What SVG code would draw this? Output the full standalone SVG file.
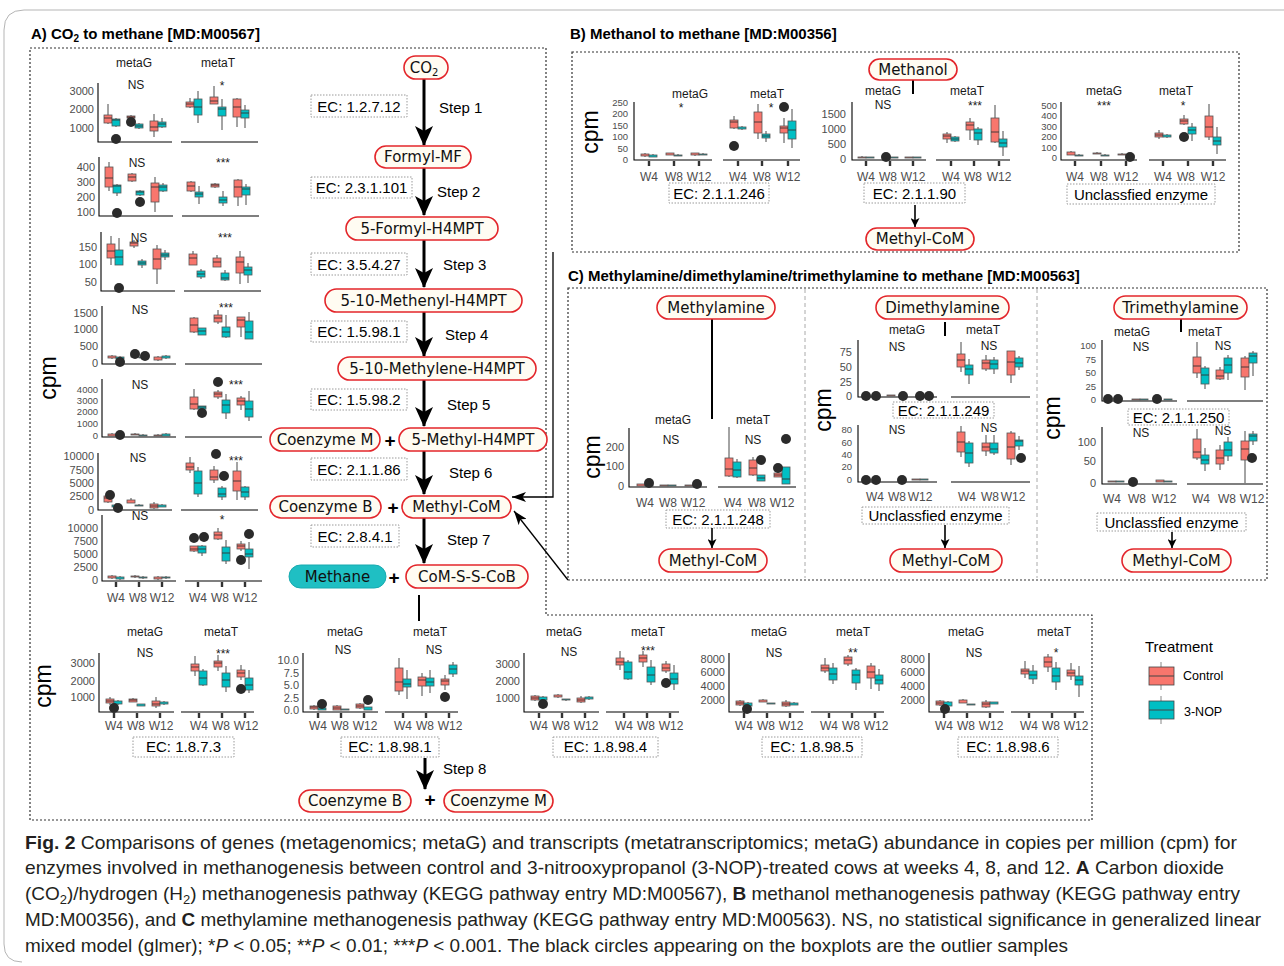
<svg xmlns="http://www.w3.org/2000/svg" width="1284" height="966" viewBox="0 0 1284 966">
<defs>
<style>
text{font-family:"Liberation Sans",Arial,sans-serif}
.ax{fill:none;stroke:#000;stroke-width:1.1}
.tk{fill:none;stroke:#333;stroke-width:2.4}
.w{fill:none;stroke:#333;stroke-width:0.9}
.r{fill:#F8766D;stroke:#555;stroke-width:0.8}
.t{fill:#00BFC4;stroke:#555;stroke-width:0.8}
.o{fill:#2b2b2b}
.yl{font-size:11px;fill:#4d4d4d;text-anchor:end}
.ys{font-size:9.5px;fill:#4d4d4d;text-anchor:end}
.xl{font-size:12px;fill:#4d4d4d;text-anchor:middle}
.hd{font-size:12px;fill:#1a1a1a;text-anchor:middle}
.ns{font-size:12px;fill:#1a1a1a;text-anchor:middle}
.cpm{font-size:23px;fill:#000;text-anchor:middle}
.nd{fill:#fffcf2;stroke:#e3262b;stroke-width:1.6}
.nt{font-family:"DejaVu Sans",Verdana,sans-serif;font-size:15px;fill:#111;text-anchor:middle}
.ec{fill:#fff;stroke:#9a9a9a;stroke-width:1;stroke-dasharray:1.5 1.5}
.et{font-size:15px;fill:#000;text-anchor:middle}
.sp{font-size:15px;fill:#000}
.ttl{font-size:15px;font-weight:bold;fill:#000}
.pl{font-size:19px;font-weight:bold;fill:#000;text-anchor:middle}
.frm{fill:none;stroke:#333;stroke-width:1.2;stroke-dasharray:2 2}
.div{fill:none;stroke:#aaa;stroke-width:1;stroke-dasharray:4 3}
.cap{font-size:19px;fill:#231f20}
.big{fill:none;stroke:#000;stroke-width:3}
.sm{fill:none;stroke:#000;stroke-width:1.6}
.ln{fill:none;stroke:#000;stroke-width:2}
.cn{fill:none;stroke:#000;stroke-width:1.3}
</style>
<marker id="mb" viewBox="0 0 20 18" refX="19" refY="9" markerWidth="20" markerHeight="18" markerUnits="userSpaceOnUse" orient="auto"><path d="M0,0 L20,9 L0,18 L5,9 Z" fill="#000"/></marker>
<marker id="ms" viewBox="0 0 10 10" refX="10" refY="5" markerWidth="10" markerHeight="9" markerUnits="userSpaceOnUse" orient="auto"><path d="M0,0 L10,5 L0,10 L2.5,5 Z" fill="#000"/></marker>
<marker id="mm" viewBox="0 0 14 10" refX="14" refY="5" markerWidth="14" markerHeight="10" markerUnits="userSpaceOnUse" orient="auto"><path d="M0,0 L14,5 L0,10 L3.5,5 Z" fill="#000"/></marker>
</defs>
<rect width="1284" height="966" fill="#fff"/>
<path d="M1284 10H24Q4 10 4 30V944Q4 962 22 962" fill="none" stroke="#b5b5b5" stroke-width="1"/>

<!-- panel frames -->
<g id="frames">
<text class="ttl" x="31" y="39">A) CO<tspan font-size="10" dy="3">2</tspan><tspan dy="-3"> to methane [MD:M00567]</tspan></text>
<path class="frm" d="M30 48H546V615H1092V820H30Z"/>
<text class="ttl" x="570" y="39">B) Methanol to methane [MD:M00356]</text>
<path class="frm" d="M572 52H1239V252H572Z"/>
<text class="ttl" x="568" y="281">C) Methylamine/dimethylamine/trimethylamine to methane [MD:M00563]</text>
<path class="frm" d="M568 288H1267V580H568Z"/>
<path class="div" d="M805 289V578M1037 289V578"/>
</g>

<!-- Panel A left plots -->
<g id="plotsA">
<text class="hd" x="134" y="67">metaG</text><text class="hd" x="218" y="67">metaT</text>
<text class="cpm" transform="translate(48,378) rotate(-90)" y="8">cpm</text>
<g id="a1" transform="translate(-4,0)">
<path class="ax" d="M102 83V142H176M185 142H262"/>
<path class="w" d="M112 104V124M120 118V127M135 115V119M143 123V129M158 114V137M166 118V128M194 98V108M202 91V123M218 86V104M226 99V130M241 98V127M249 105V128"/>
<rect class="r" x="108" y="115" width="8" height="8"/><rect class="t" x="116" y="119" width="8" height="7"/><rect class="r" x="131" y="116" width="8" height="2"/><rect class="t" x="139" y="124" width="8" height="4"/><rect class="r" x="154" y="121" width="8" height="10"/><rect class="t" x="162" y="122" width="8" height="5"/>
<rect class="r" x="190" y="102" width="8" height="5"/><rect class="t" x="198" y="99" width="8" height="16"/><rect class="r" x="214" y="97" width="8" height="7"/><rect class="t" x="222" y="107" width="8" height="9"/><rect class="r" x="237" y="99" width="8" height="18"/><rect class="t" x="245" y="110" width="8" height="8"/>
<path class="w" d="M108 118h8M116 120h8M131 117h8M139 126h8M154 127h8M162 124h8M190 104h8M198 107h8M214 101h8M222 109h8M237 107h8M245 113h8"/>
<circle class="o" cx="120" cy="139" r="5"/><circle class="o" cx="135" cy="122" r="5"/>
<text class="yl" x="98" y="95">3000</text><text class="yl" x="98" y="113">2000</text><text class="yl" x="98" y="132">1000</text>
<text class="ns" x="140" y="89">NS</text><text class="ns" x="226" y="90">*</text>
</g>
<g id="a2" transform="translate(-3,0)">
<path class="ax" d="M102 157V216H176M185 216H262"/>
<path class="w" d="M112 162V191M120 184V196M135 173V182M143 190V196M158 177V212M166 183V192M194 181V192M202 186V204M218 183V188M226 191V206M241 179V206M249 184V205"/>
<rect class="r" x="108" y="167" width="8" height="20"/><rect class="t" x="116" y="185" width="8" height="8"/><rect class="r" x="131" y="174" width="8" height="7"/><rect class="t" x="139" y="191" width="8" height="4"/><rect class="r" x="154" y="183" width="8" height="19"/><rect class="t" x="162" y="185" width="8" height="6"/>
<rect class="r" x="190" y="182" width="8" height="9"/><rect class="t" x="198" y="192" width="8" height="5"/><rect class="r" x="214" y="184" width="8" height="3"/><rect class="t" x="222" y="197" width="8" height="6"/><rect class="r" x="237" y="180" width="8" height="17"/><rect class="t" x="245" y="187" width="8" height="8"/>
<path class="w" d="M108 178h8M116 186h8M131 177h8M139 192h8M154 187h8M162 187h8M190 186h8M198 194h8M214 185h8M222 200h8M237 187h8M245 189h8"/>
<circle class="o" cx="120" cy="213" r="5"/><circle class="o" cx="143" cy="202" r="5"/>
<text class="yl" x="98" y="171">400</text><text class="yl" x="98" y="186">300</text><text class="yl" x="98" y="201">200</text><text class="yl" x="98" y="216">100</text>
<text class="ns" x="140" y="167">NS</text><text class="ns" x="226" y="167">***</text>
</g>
<g id="a3" transform="translate(-1,0)">
<path class="ax" d="M102 232V291H176M185 291H262"/>
<path class="w" d="M112 236V265M120 238V265M135 240V248M143 259V268M158 245V284M166 250V260M194 251V265M202 269V279M218 255V267M226 270V281M241 251V284M249 263V283"/>
<rect class="r" x="108" y="244" width="8" height="14"/><rect class="t" x="116" y="250" width="8" height="15"/><rect class="r" x="131" y="242" width="8" height="4"/><rect class="t" x="139" y="261" width="8" height="4"/><rect class="r" x="154" y="249" width="8" height="20"/><rect class="t" x="162" y="253" width="8" height="4"/>
<rect class="r" x="190" y="254" width="8" height="11"/><rect class="t" x="198" y="271" width="8" height="6"/><rect class="r" x="214" y="258" width="8" height="9"/><rect class="t" x="222" y="273" width="8" height="7"/><rect class="r" x="237" y="257" width="8" height="16"/><rect class="t" x="245" y="267" width="8" height="8"/>
<path class="w" d="M108 251h8M116 257h8M131 243h8M139 263h8M154 259h8M162 255h8M190 258h8M198 274h8M214 262h8M222 278h8M237 262h8M245 270h8"/>
<circle class="o" cx="120" cy="288" r="5"/>
<text class="yl" x="98" y="251">150</text><text class="yl" x="98" y="268">100</text><text class="yl" x="98" y="286">50</text>
<text class="ns" x="140" y="242">NS</text><text class="ns" x="226" y="242">***</text>
</g>
<g id="a4">
<path class="ax" d="M102 306V364H176M185 364H262"/>
<path class="w" d="M112 355V359M120 356V360M135 355V357M143 356V358M158 356V361M166 355V359M194 317V333M202 328V335M218 310V324M226 315V338M241 317V337M249 312V339"/>
<rect class="r" x="108" y="356" width="8" height="2"/><rect class="t" x="116" y="357" width="8" height="2"/><rect class="r" x="131" y="355" width="8" height="2"/><rect class="t" x="139" y="357" width="8" height="1"/><rect class="r" x="154" y="357" width="8" height="3"/><rect class="t" x="162" y="356" width="8" height="2"/>
<rect class="r" x="190" y="318" width="8" height="14"/><rect class="t" x="198" y="328" width="8" height="7"/><rect class="r" x="214" y="315" width="8" height="7"/><rect class="t" x="222" y="327" width="8" height="10"/><rect class="r" x="237" y="317" width="8" height="10"/><rect class="t" x="245" y="321" width="8" height="18"/>
<path class="w" d="M190 325h8M198 331h8M214 318h8M222 332h8M237 320h8M245 332h8"/>
<circle class="o" cx="120" cy="362" r="5"/><circle class="o" cx="135" cy="354" r="5"/><circle class="o" cx="145" cy="356" r="5"/>
<text class="yl" x="98" y="317">1500</text><text class="yl" x="98" y="333">1000</text><text class="yl" x="98" y="350">500</text><text class="yl" x="98" y="367">0</text>
<text class="ns" x="140" y="314">NS</text><text class="ns" x="226" y="312">***</text>
</g>
<g id="a5">
<path class="ax" d="M102 379V437H176M185 437H262"/>
<path class="w" d="M112 433V436M120 434V436M135 433V435M143 434V436M158 434V436M166 433V436M194 389V410M202 406V410M218 390V399M226 394V419M241 396V410M249 391V421"/>
<rect class="r" x="108" y="434" width="8" height="2"/><rect class="t" x="116" y="435" width="8" height="1"/><rect class="r" x="131" y="434" width="8" height="1"/><rect class="t" x="139" y="435" width="8" height="1"/><rect class="r" x="154" y="435" width="8" height="1"/><rect class="t" x="162" y="434" width="8" height="2"/>
<rect class="r" x="190" y="397" width="8" height="12"/><rect class="t" x="198" y="406" width="8" height="3"/><rect class="r" x="214" y="392" width="8" height="5"/><rect class="t" x="222" y="400" width="8" height="13"/><rect class="r" x="237" y="398" width="8" height="7"/><rect class="t" x="245" y="401" width="8" height="16"/>
<path class="w" d="M190 404h8M198 407h8M214 394h8M222 405h8M237 401h8M245 409h8"/>
<circle class="o" cx="120" cy="435" r="5"/><circle class="o" cx="202" cy="413" r="5"/><circle class="o" cx="218" cy="382" r="5"/>
<text class="ys" x="98" y="393">4000</text><text class="ys" x="98" y="404">3000</text><text class="ys" x="98" y="415">2000</text><text class="ys" x="98" y="427">1000</text><text class="ys" x="98" y="439">0</text>
<text class="ns" x="140" y="389">NS</text><text class="ns" x="236" y="389">***</text>
</g>
<g id="a6" transform="translate(-4,0)">
<path class="ax" d="M102 453V510H176M185 510H262"/>
<path class="w" d="M112 494V503M120 503V508M135 498V503M143 504V506M158 502V509M166 504V507M194 457V473M202 467V497M218 466V483M226 486V500M241 462V500M249 486V500"/>
<rect class="r" x="108" y="496" width="8" height="6"/><rect class="t" x="116" y="505" width="8" height="2"/><rect class="r" x="131" y="500" width="8" height="3"/><rect class="t" x="139" y="505" width="8" height="1"/><rect class="r" x="154" y="504" width="8" height="4"/><rect class="t" x="162" y="505" width="8" height="2"/>
<rect class="r" x="190" y="463" width="8" height="7"/><rect class="t" x="198" y="471" width="8" height="23"/><rect class="r" x="214" y="470" width="8" height="10"/><rect class="t" x="222" y="488" width="8" height="9"/><rect class="r" x="237" y="471" width="8" height="20"/><rect class="t" x="245" y="487" width="8" height="10"/>
<path class="w" d="M108 498h8M154 506h8M190 467h8M198 483h8M214 477h8M222 494h8M237 481h8M245 492h8"/>
<circle class="o" cx="114" cy="495" r="5"/><circle class="o" cx="122" cy="508" r="5"/><circle class="o" cx="220" cy="454" r="5"/><circle class="o" cx="228" cy="476" r="5"/>
<text class="yl" x="98" y="460">10000</text><text class="yl" x="98" y="474">7500</text><text class="yl" x="98" y="487">5000</text><text class="yl" x="98" y="500">2500</text><text class="yl" x="98" y="514">0</text>
<text class="ns" x="142" y="462">NS</text><text class="ns" x="240" y="465">***</text>
</g>
<g id="a7">
<path class="ax" d="M102 515V581H176M185 581H262"/>
<path class="tk" d="M116 582V587M139 582V587M162 582V587M198 582V587M222 582V587M245 582V587"/>
<path class="w" d="M112 575V579M120 576V580M135 575V578M143 576V579M158 576V580M166 576V579M194 546V552M202 545V556M218 528V540M226 540V564M241 541V551M249 542V569"/>
<rect class="r" x="108" y="576" width="8" height="2"/><rect class="t" x="116" y="577" width="8" height="2"/><rect class="r" x="131" y="576" width="8" height="1"/><rect class="t" x="139" y="577" width="8" height="1"/><rect class="r" x="154" y="577" width="8" height="2"/><rect class="t" x="162" y="577" width="8" height="1"/>
<rect class="r" x="190" y="546" width="8" height="5"/><rect class="t" x="198" y="546" width="8" height="7"/><rect class="r" x="214" y="532" width="8" height="7"/><rect class="t" x="222" y="547" width="8" height="14"/><rect class="r" x="237" y="544" width="8" height="5"/><rect class="t" x="245" y="549" width="8" height="8"/>
<path class="w" d="M190 549h8M198 549h8M214 535h8M222 553h8M237 546h8M245 554h8"/>
<circle class="o" cx="194" cy="538" r="5"/><circle class="o" cx="204" cy="537" r="5"/><circle class="o" cx="241" cy="560" r="5"/><circle class="o" cx="249" cy="534" r="5"/>
<text class="yl" x="98" y="532">10000</text><text class="yl" x="98" y="545">7500</text><text class="yl" x="98" y="558">5000</text><text class="yl" x="98" y="571">2500</text><text class="yl" x="98" y="584">0</text>
<text class="ns" x="140" y="520">NS</text><text class="ns" x="222" y="524">*</text>
<text class="xl" x="116" y="602">W4</text><text class="xl" x="138" y="602">W8</text><text class="xl" x="162" y="602">W12</text>
<text class="xl" x="198" y="602">W4</text><text class="xl" x="220" y="602">W8</text><text class="xl" x="245" y="602">W12</text>
</g>
</g>

<!-- Bottom row plots -->
<g id="plotsBottom">
<text class="cpm" transform="translate(43,686) rotate(-90)" y="8">cpm</text>
<g id="p1" transform="translate(99,0)">
<path class="ax" d="M0 653V712H75M82 712H155"/>
<path class="tk" d="M15 713V718M38 713V718M61 713V718M100 713V718M123 713V718M146 713V718"/>
<path class="w" d="M11 697V705M19 700V705M34 698V702M42 704V706M57 697V708M65 701V705M96 656V676M104 669V686M119 655V671M127 666V692M142 665V680M150 670V693"/>
<rect class="r" x="7" y="699" width="8" height="4"/><rect class="t" x="15" y="701" width="8" height="3"/><rect class="r" x="30" y="699" width="8" height="3"/><rect class="t" x="38" y="704" width="8" height="2"/><rect class="r" x="53" y="701" width="8" height="5"/><rect class="t" x="61" y="702" width="8" height="2"/>
<rect class="r" x="92" y="664" width="8" height="7"/><rect class="t" x="100" y="671" width="8" height="14"/><rect class="r" x="115" y="661" width="8" height="6"/><rect class="t" x="123" y="673" width="8" height="14"/><rect class="r" x="138" y="670" width="8" height="7"/><rect class="t" x="146" y="678" width="8" height="12"/>
<path class="w" d="M7 701h8M30 700h8M53 704h8M92 667h8M100 678h8M115 663h8M123 680h8M138 673h8M146 685h8"/>
<circle class="o" cx="15" cy="708" r="5"/><circle class="o" cx="142" cy="689" r="5"/>
<text class="yl" x="-4" y="667">3000</text><text class="yl" x="-4" y="685">2000</text><text class="yl" x="-4" y="701">1000</text>
<text class="hd" x="46" y="636">metaG</text><text class="hd" x="122" y="636">metaT</text>
<text class="ns" x="46" y="657">NS</text><text class="ns" x="124" y="658">***</text>
<text class="xl" x="15" y="730">W4</text><text class="xl" x="37" y="730">W8</text><text class="xl" x="62" y="730">W12</text><text class="xl" x="100" y="730">W4</text><text class="xl" x="122" y="730">W8</text><text class="xl" x="147" y="730">W12</text>
</g>
<g id="p2" transform="translate(303,0)">
<path class="ax" d="M0 653V712H75M82 712H155"/>
<path class="tk" d="M15 713V718M38 713V718M61 713V718M100 713V718M123 713V718M146 713V718"/>
<path class="w" d="M11 705V710M19 707V710M34 705V710M42 709V710M57 703V709M65 707V710M96 658V695M104 670V699M119 673V696M127 670V693M142 675V690M150 662V677"/>
<rect class="r" x="7" y="706" width="8" height="3"/><rect class="t" x="15" y="708" width="8" height="2"/><rect class="r" x="30" y="706" width="8" height="4"/><rect class="t" x="38" y="709" width="8" height="1"/><rect class="r" x="53" y="704" width="8" height="4"/><rect class="t" x="61" y="707" width="8" height="3"/>
<rect class="r" x="92" y="668" width="8" height="23"/><rect class="t" x="100" y="679" width="8" height="8"/><rect class="r" x="115" y="677" width="8" height="9"/><rect class="t" x="123" y="678" width="8" height="8"/><rect class="r" x="138" y="679" width="8" height="6"/><rect class="t" x="146" y="665" width="8" height="9"/>
<path class="w" d="M7 707h8M30 708h8M53 706h8M92 682h8M100 684h8M115 680h8M123 682h8M138 681h8M146 669h8"/>
<circle class="o" cx="19" cy="704" r="5"/><circle class="o" cx="65" cy="700" r="5"/><circle class="o" cx="142" cy="697" r="5"/>
<text class="yl" x="-4" y="664">10.0</text><text class="yl" x="-4" y="677">7.5</text><text class="yl" x="-4" y="689">5.0</text><text class="yl" x="-4" y="702">2.5</text><text class="yl" x="-4" y="714">0.0</text>
<text class="hd" x="42" y="636">metaG</text><text class="hd" x="127" y="636">metaT</text>
<text class="ns" x="40" y="654">NS</text><text class="ns" x="131" y="654">NS</text>
<text class="xl" x="15" y="730">W4</text><text class="xl" x="37" y="730">W8</text><text class="xl" x="62" y="730">W12</text><text class="xl" x="100" y="730">W4</text><text class="xl" x="122" y="730">W8</text><text class="xl" x="147" y="730">W12</text>
</g>
<g id="p3" transform="translate(524,0)">
<path class="ax" d="M0 653V712H75M82 712H155"/>
<path class="tk" d="M15 713V718M38 713V718M61 713V718M100 713V718M123 713V718M146 713V718"/>
<path class="w" d="M11 695V701M19 696V700M34 694V698M42 699V701M57 696V703M65 696V700M96 651V670M104 660V680M119 651V667M127 660V685M142 661V673M150 665V690"/>
<rect class="r" x="7" y="696" width="8" height="4"/><rect class="t" x="15" y="697" width="8" height="3"/><rect class="r" x="30" y="695" width="8" height="2"/><rect class="t" x="38" y="699" width="8" height="1"/><rect class="r" x="53" y="698" width="8" height="4"/><rect class="t" x="61" y="697" width="8" height="2"/>
<rect class="r" x="92" y="658" width="8" height="7"/><rect class="t" x="100" y="662" width="8" height="17"/><rect class="r" x="115" y="655" width="8" height="7"/><rect class="t" x="123" y="667" width="8" height="15"/><rect class="r" x="138" y="664" width="8" height="7"/><rect class="t" x="146" y="673" width="8" height="11"/>
<path class="w" d="M7 698h8M53 700h8M92 662h8M100 672h8M115 658h8M123 675h8M138 668h8M146 679h8"/>
<circle class="o" cx="19" cy="704" r="5"/><circle class="o" cx="142" cy="683" r="5"/>
<text class="yl" x="-4" y="668">3000</text><text class="yl" x="-4" y="685">2000</text><text class="yl" x="-4" y="702">1000</text>
<text class="hd" x="40" y="636">metaG</text><text class="hd" x="124" y="636">metaT</text>
<text class="ns" x="45" y="656">NS</text><text class="ns" x="124" y="655">***</text>
<text class="xl" x="15" y="730">W4</text><text class="xl" x="37" y="730">W8</text><text class="xl" x="62" y="730">W12</text><text class="xl" x="100" y="730">W4</text><text class="xl" x="122" y="730">W8</text><text class="xl" x="147" y="730">W12</text>
</g>
<g id="p4" transform="translate(729,0)">
<path class="ax" d="M0 653V712H75M82 712H155"/>
<path class="tk" d="M15 713V718M38 713V718M61 713V718M100 713V718M123 713V718M146 713V718"/>
<path class="w" d="M11 700V706M19 702V706M34 699V702M42 703V704M57 700V707M65 702V705M96 658V673M104 663V684M119 655V666M127 668V690M142 663V689M150 669V691"/>
<rect class="r" x="7" y="701" width="8" height="4"/><rect class="t" x="15" y="703" width="8" height="3"/><rect class="r" x="30" y="700" width="8" height="2"/><rect class="t" x="38" y="703" width="8" height="1"/><rect class="r" x="53" y="702" width="8" height="4"/><rect class="t" x="61" y="703" width="8" height="2"/>
<rect class="r" x="92" y="665" width="8" height="6"/><rect class="t" x="100" y="668" width="8" height="12"/><rect class="r" x="115" y="657" width="8" height="7"/><rect class="t" x="123" y="670" width="8" height="13"/><rect class="r" x="138" y="666" width="8" height="12"/><rect class="t" x="146" y="675" width="8" height="9"/>
<path class="w" d="M7 703h8M53 704h8M92 668h8M100 674h8M115 660h8M123 675h8M138 672h8M146 680h8"/>
<circle class="o" cx="18" cy="709" r="5"/>
<text class="yl" x="-4" y="663">8000</text><text class="yl" x="-4" y="676">6000</text><text class="yl" x="-4" y="690">4000</text><text class="yl" x="-4" y="704">2000</text>
<text class="hd" x="40" y="636">metaG</text><text class="hd" x="124" y="636">metaT</text>
<text class="ns" x="45" y="657">NS</text><text class="ns" x="124" y="657">**</text>
<text class="xl" x="15" y="730">W4</text><text class="xl" x="37" y="730">W8</text><text class="xl" x="62" y="730">W12</text><text class="xl" x="100" y="730">W4</text><text class="xl" x="122" y="730">W8</text><text class="xl" x="147" y="730">W12</text>
</g>
<g id="p5" transform="translate(929,0)">
<path class="ax" d="M0 653V712H75M82 712H155"/>
<path class="tk" d="M15 713V718M38 713V718M61 713V718M100 713V718M123 713V718M146 713V718"/>
<path class="w" d="M11 700V706M19 701V707M34 699V703M42 704V705M57 700V708M65 702V704M96 661V678M104 665V684M119 654V672M127 662V690M142 663V680M150 666V697"/>
<rect class="r" x="7" y="701" width="8" height="4"/><rect class="t" x="15" y="702" width="8" height="4"/><rect class="r" x="30" y="700" width="8" height="3"/><rect class="t" x="38" y="704" width="8" height="1"/><rect class="r" x="53" y="702" width="8" height="5"/><rect class="t" x="61" y="702" width="8" height="2"/>
<rect class="r" x="92" y="669" width="8" height="5"/><rect class="t" x="100" y="671" width="8" height="8"/><rect class="r" x="115" y="657" width="8" height="10"/><rect class="t" x="123" y="668" width="8" height="14"/><rect class="r" x="138" y="670" width="8" height="6"/><rect class="t" x="146" y="676" width="8" height="9"/>
<path class="w" d="M7 703h8M53 704h8M92 671h8M100 675h8M115 662h8M123 676h8M138 673h8M146 680h8"/>
<circle class="o" cx="16" cy="709" r="5"/>
<text class="yl" x="-4" y="663">8000</text><text class="yl" x="-4" y="676">6000</text><text class="yl" x="-4" y="690">4000</text><text class="yl" x="-4" y="704">2000</text>
<text class="hd" x="37" y="636">metaG</text><text class="hd" x="125" y="636">metaT</text>
<text class="ns" x="45" y="657">NS</text><text class="ns" x="127" y="657">*</text>
<text class="xl" x="15" y="730">W4</text><text class="xl" x="37" y="730">W8</text><text class="xl" x="62" y="730">W12</text><text class="xl" x="100" y="730">W4</text><text class="xl" x="122" y="730">W8</text><text class="xl" x="147" y="730">W12</text>
</g>
<g id="ec-bottom">
<rect class="ec" x="133" y="737" width="101" height="20"/><text class="et" x="183.5" y="752">EC: 1.8.7.3</text>
<rect class="ec" x="341" y="737" width="98" height="20"/><text class="et" x="390" y="752">EC: 1.8.98.1</text>
<rect class="ec" x="553" y="737" width="105" height="20"/><text class="et" x="605.5" y="752">EC: 1.8.98.4</text>
<rect class="ec" x="762" y="737" width="100" height="20"/><text class="et" x="812" y="752">EC: 1.8.98.5</text>
<rect class="ec" x="958" y="737" width="100" height="20"/><text class="et" x="1008" y="752">EC: 1.8.98.6</text>
</g>
</g>

<!-- Panel B plots -->
<g id="plotsB">
<text class="cpm" transform="translate(590,132) rotate(-90)" y="8">cpm</text>
<g id="b1">
<path class="ax" d="M634 102V160H712M723 160H800"/>
<path class="tk" d="M649 161V166M674 161V166M699 161V166M738 161V166M762 161V166M788 161V166"/>
<path class="w" d="M645 153V157M653 154V157M670 153V155M678 154V156M695 153V156M703 153V155M734 116V129M742 126V130M758 104V139M766 131V142M784 118V143M792 109V148"/>
<rect class="r" x="641" y="154" width="8" height="2"/><rect class="t" x="649" y="155" width="8" height="2"/><rect class="r" x="666" y="153" width="8" height="2"/><rect class="t" x="674" y="155" width="8" height="1"/><rect class="r" x="691" y="153" width="8" height="2"/><rect class="t" x="699" y="154" width="8" height="1"/>
<rect class="r" x="730" y="120" width="8" height="8"/><rect class="t" x="738" y="127" width="8" height="2"/><rect class="r" x="754" y="112" width="8" height="21"/><rect class="t" x="762" y="134" width="8" height="4"/><rect class="r" x="780" y="126" width="8" height="7"/><rect class="t" x="788" y="121" width="8" height="18"/>
<path class="w" d="M730 122h8M754 122h8M762 136h8M780 128h8M788 130h8"/>
<circle class="o" cx="734" cy="146" r="5"/><circle class="o" cx="784" cy="107" r="5"/>
<text class="ys" x="628" y="106">250</text><text class="ys" x="628" y="117">200</text><text class="ys" x="628" y="129">150</text><text class="ys" x="628" y="140">100</text><text class="ys" x="628" y="152">50</text><text class="ys" x="628" y="163">0</text>
<text class="hd" x="690" y="98">metaG</text><text class="hd" x="767" y="98">metaT</text>
<text class="ns" x="681" y="112">*</text><text class="ns" x="771" y="112">*</text>
<text class="xl" x="649" y="181">W4</text><text class="xl" x="674" y="181">W8</text><text class="xl" x="699" y="181">W12</text><text class="xl" x="738" y="181">W4</text><text class="xl" x="762" y="181">W8</text><text class="xl" x="788" y="181">W12</text>
<rect class="ec" x="669" y="183" width="100" height="20"/><text class="et" x="719" y="199">EC: 2.1.1.246</text>
</g>
<g id="b2">
<path class="ax" d="M852 102V160H926M936 160H1010"/>
<path class="tk" d="M866 161V166M890 161V166M913 161V166M951 161V166M974 161V166M999 161V166"/>
<path class="w" d="M862 156V158M870 157V158M909 157V158M917 157V158M947 132V143M955 136V142M970 118V140M978 127V145M995 105V143M1003 131V156"/>
<rect class="r" x="858" y="157" width="8" height="1"/><rect class="t" x="866" y="157" width="8" height="1"/><rect class="t" x="890" y="157" width="8" height="1"/><rect class="r" x="905" y="157" width="8" height="1"/><rect class="t" x="913" y="157" width="8" height="1"/>
<rect class="r" x="943" y="134" width="8" height="5"/><rect class="t" x="951" y="137" width="8" height="4"/><rect class="r" x="966" y="122" width="8" height="8"/><rect class="t" x="974" y="129" width="8" height="11"/><rect class="r" x="991" y="118" width="8" height="24"/><rect class="t" x="999" y="139" width="8" height="8"/>
<path class="w" d="M943 136h8M951 139h8M966 125h8M974 133h8M991 132h8M999 143h8"/>
<circle class="o" cx="886" cy="157" r="5"/>
<text class="yl" x="846" y="118">1500</text><text class="yl" x="846" y="133">1000</text><text class="yl" x="846" y="148">500</text><text class="yl" x="846" y="163">0</text>
<text class="hd" x="883" y="95">metaG</text><text class="hd" x="967" y="95">metaT</text>
<text class="ns" x="883" y="109">NS</text><text class="ns" x="975" y="110">***</text>
<text class="xl" x="866" y="181">W4</text><text class="xl" x="888" y="181">W8</text><text class="xl" x="913" y="181">W12</text><text class="xl" x="951" y="181">W4</text><text class="xl" x="973" y="181">W8</text><text class="xl" x="999" y="181">W12</text>
<rect class="ec" x="864" y="183" width="101" height="20"/><text class="et" x="914.5" y="199">EC: 2.1.1.90</text>
</g>
<g id="b3">
<path class="ax" d="M1061 102V160H1137M1149 160H1226"/>
<path class="tk" d="M1075 161V166M1101 161V166M1126 161V166M1163 161V166M1188 161V166M1213 161V166"/>
<path class="w" d="M1071 151V155M1079 154V156M1097 152V154M1105 154V156M1122 153V155M1159 130V139M1167 134V138M1184 115V125M1192 123V141M1209 104V140M1217 127V154"/>
<rect class="r" x="1067" y="152" width="8" height="3"/><rect class="t" x="1075" y="155" width="8" height="1"/><rect class="r" x="1093" y="153" width="8" height="1"/><rect class="t" x="1101" y="155" width="8" height="1"/><rect class="r" x="1118" y="154" width="8" height="1"/><rect class="t" x="1126" y="155" width="8" height="1"/>
<rect class="r" x="1155" y="133" width="8" height="4"/><rect class="t" x="1163" y="135" width="8" height="2"/><rect class="r" x="1180" y="119" width="8" height="5"/><rect class="t" x="1188" y="127" width="8" height="7"/><rect class="r" x="1205" y="116" width="8" height="21"/><rect class="t" x="1213" y="137" width="8" height="8"/>
<path class="w" d="M1155 135h8M1180 121h8M1188 130h8M1205 127h8M1213 141h8"/>
<circle class="o" cx="1130" cy="157" r="5"/><circle class="o" cx="1184" cy="137" r="5"/>
<text class="ys" x="1057" y="109">500</text><text class="ys" x="1057" y="119">400</text><text class="ys" x="1057" y="130">300</text><text class="ys" x="1057" y="140">200</text><text class="ys" x="1057" y="151">100</text><text class="ys" x="1057" y="161">0</text>
<text class="hd" x="1104" y="95">metaG</text><text class="hd" x="1176" y="95">metaT</text>
<text class="ns" x="1104" y="110">***</text><text class="ns" x="1183" y="110">*</text>
<text class="xl" x="1075" y="181">W4</text><text class="xl" x="1099" y="181">W8</text><text class="xl" x="1126" y="181">W12</text><text class="xl" x="1163" y="181">W4</text><text class="xl" x="1186" y="181">W8</text><text class="xl" x="1213" y="181">W12</text>
<rect class="ec" x="1067" y="184" width="148" height="20"/><text class="et" x="1141" y="200">Unclassfied enzyme</text>
</g>
</g>

<!-- Panel C plots -->
<g id="plotsC">
<g id="c1">
<text class="cpm" transform="translate(592,457) rotate(-90)" y="8">cpm</text>
<path class="ax" d="M629 428V487H707M718 487H796"/>
<path class="w" d="M729 427V477M737 459V478M753 457V476M761 475V481M778 472V477M786 467V484"/>
<rect class="r" x="637" y="484" width="8" height="2"/><rect class="t" x="645" y="485" width="8" height="1"/><rect class="r" x="660" y="485" width="8" height="1"/><rect class="t" x="668" y="485" width="8" height="1"/><rect class="r" x="685" y="485" width="8" height="1"/><rect class="t" x="693" y="485" width="8" height="1"/>
<rect class="r" x="725" y="458" width="8" height="18"/><rect class="t" x="733" y="462" width="8" height="15"/><rect class="r" x="749" y="460" width="8" height="15"/><rect class="t" x="757" y="475" width="8" height="6"/><rect class="r" x="774" y="473" width="8" height="4"/><rect class="t" x="782" y="467" width="8" height="17"/>
<path class="w" d="M725 469h8M733 470h8M749 468h8M757 478h8M774 475h8M782 479h8"/>
<circle class="o" cx="649" cy="483" r="5"/><circle class="o" cx="697" cy="484" r="5"/><circle class="o" cx="761" cy="460" r="5"/><circle class="o" cx="778" cy="468" r="5"/><circle class="o" cx="786" cy="439" r="5"/>
<text class="yl" x="624" y="451">200</text><text class="yl" x="624" y="470">100</text><text class="yl" x="624" y="490">0</text>
<text class="hd" x="673" y="424">metaG</text><text class="hd" x="753" y="424">metaT</text>
<text class="ns" x="671" y="444">NS</text><text class="ns" x="753" y="444">NS</text>
<text class="xl" x="645" y="507">W4</text><text class="xl" x="668" y="507">W8</text><text class="xl" x="693" y="507">W12</text><text class="xl" x="733" y="507">W4</text><text class="xl" x="757" y="507">W8</text><text class="xl" x="782" y="507">W12</text>
<rect class="ec" x="666" y="510" width="104" height="18"/><text class="et" x="718" y="525">EC: 2.1.1.248</text>
</g>
<g id="c2">
<text class="cpm" transform="translate(823,410) rotate(-90)" y="8">cpm</text>
<text class="hd" x="907" y="334">metaG</text><text class="hd" x="983" y="334">metaT</text>
<path class="ax" d="M858 340V397H937M951 397H1030"/>
<path class="w" d="M961 342V372M969 359V384M986 355V371M994 357V374M1011 351V383M1019 356V370"/>
<rect class="r" x="887" y="395" width="8" height="1"/>
<rect class="r" x="957" y="354" width="8" height="13"/><rect class="t" x="965" y="365" width="8" height="10"/><rect class="r" x="982" y="360" width="8" height="9"/><rect class="t" x="990" y="360" width="8" height="9"/><rect class="r" x="1007" y="351" width="8" height="24"/><rect class="t" x="1015" y="358" width="8" height="9"/>
<path class="w" d="M957 360h8M965 369h8M982 363h8M990 364h8M1007 362h8M1015 363h8"/>
<circle class="o" cx="866" cy="396" r="5"/><circle class="o" cx="876" cy="396" r="5"/><circle class="o" cx="903" cy="396" r="5"/><circle class="o" cx="920" cy="396" r="5"/><circle class="o" cx="929" cy="396" r="5"/>
<text class="yl" x="852" y="356">75</text><text class="yl" x="852" y="371">50</text><text class="yl" x="852" y="386">25</text><text class="yl" x="852" y="400">0</text>
<text class="ns" x="897" y="351">NS</text><text class="ns" x="989" y="350">NS</text>
<rect class="ec" x="893" y="402" width="101" height="16"/><text class="et" x="943.5" y="416">EC: 2.1.1.249</text>
<path class="ax" d="M858 425V482H937M951 482H1030"/>
<path class="w" d="M961 426V457M969 441V467M986 435V456M994 435V455M1011 431V465M1019 436V450"/>
<rect class="t" x="920" y="479" width="8" height="1"/><rect class="r" x="912" y="479" width="8" height="1"/>
<rect class="r" x="957" y="432" width="8" height="20"/><rect class="t" x="965" y="443" width="8" height="20"/><rect class="r" x="982" y="443" width="8" height="8"/><rect class="t" x="990" y="443" width="8" height="10"/><rect class="r" x="1007" y="433" width="8" height="26"/><rect class="t" x="1015" y="440" width="8" height="6"/>
<path class="w" d="M957 442h8M965 453h8M982 447h8M990 449h8M1007 447h8M1015 441h8"/>
<circle class="o" cx="866" cy="480" r="5"/><circle class="o" cx="876" cy="480" r="5"/><circle class="o" cx="902" cy="480" r="5"/><circle class="o" cx="1021" cy="458" r="5"/>
<text class="ys" x="852" y="433">80</text><text class="ys" x="852" y="446">60</text><text class="ys" x="852" y="458">40</text><text class="ys" x="852" y="470">20</text><text class="ys" x="852" y="483">0</text>
<text class="ns" x="897" y="434">NS</text><text class="ns" x="989" y="432">NS</text>
<text class="xl" x="875" y="501">W4</text><text class="xl" x="897" y="501">W8</text><text class="xl" x="920" y="501">W12</text><text class="xl" x="967" y="501">W4</text><text class="xl" x="990" y="501">W8</text><text class="xl" x="1013" y="501">W12</text>
<rect class="ec" x="862" y="507" width="147" height="17"/><text class="et" x="935.5" y="521">Unclassfied enzyme</text>
</g>
<g id="c3">
<text class="cpm" transform="translate(1052,418) rotate(-90)" y="8">cpm</text>
<text class="hd" x="1132" y="336">metaG</text><text class="hd" x="1205" y="336">metaT</text>
<path class="ax" d="M1102 340V401H1177M1187 401H1263"/>
<path class="w" d="M1197 342V378M1205 366V389M1220 367V380M1228 355V380M1245 356V390M1253 351V376"/>
<rect class="r" x="1132" y="399" width="8" height="1"/><rect class="t" x="1140" y="399" width="8" height="1"/><rect class="t" x="1164" y="399" width="8" height="1"/>
<rect class="r" x="1193" y="357" width="8" height="16"/><rect class="t" x="1201" y="368" width="8" height="16"/><rect class="r" x="1216" y="370" width="8" height="9"/><rect class="t" x="1224" y="358" width="8" height="15"/><rect class="r" x="1241" y="358" width="8" height="19"/><rect class="t" x="1249" y="353" width="8" height="10"/>
<path class="w" d="M1193 366h8M1201 375h8M1216 376h8M1224 365h8M1241 367h8M1249 356h8"/>
<circle class="o" cx="1108" cy="399" r="5"/><circle class="o" cx="1118" cy="399" r="5"/><circle class="o" cx="1157" cy="399" r="5"/>
<text class="ys" x="1096" y="349">100</text><text class="ys" x="1096" y="363">75</text><text class="ys" x="1096" y="376">50</text><text class="ys" x="1096" y="390">25</text><text class="ys" x="1096" y="403">0</text>
<text class="ns" x="1141" y="351">NS</text><text class="ns" x="1223" y="350">NS</text>
<rect class="ec" x="1128" y="409" width="101" height="16"/><text class="et" x="1178.5" y="423">EC: 2.1.1.250</text>
<path class="ax" d="M1102 427V484H1177M1187 484H1263"/>
<path class="w" d="M1197 429V460M1205 448V471M1220 445V470M1228 437V461M1245 431V483M1253 431V445"/>
<rect class="r" x="1108" y="481" width="8" height="1"/><rect class="t" x="1116" y="481" width="8" height="1"/><rect class="r" x="1156" y="480" width="8" height="2"/><rect class="t" x="1164" y="481" width="8" height="1"/>
<rect class="r" x="1193" y="439" width="8" height="19"/><rect class="t" x="1201" y="455" width="8" height="9"/><rect class="r" x="1216" y="450" width="8" height="14"/><rect class="t" x="1224" y="442" width="8" height="14"/><rect class="r" x="1241" y="441" width="8" height="19"/><rect class="t" x="1249" y="434" width="8" height="7"/>
<path class="w" d="M1193 452h8M1201 460h8M1216 458h8M1224 450h8M1241 449h8M1249 436h8"/>
<circle class="o" cx="1133" cy="482" r="5"/><circle class="o" cx="1252" cy="458" r="5"/>
<text class="yl" x="1096" y="446">100</text><text class="yl" x="1096" y="465">50</text><text class="yl" x="1096" y="487">0</text>
<text class="ns" x="1141" y="437">NS</text><text class="ns" x="1223" y="435">NS</text>
<text class="xl" x="1112" y="503">W4</text><text class="xl" x="1137" y="503">W8</text><text class="xl" x="1164" y="503">W12</text><text class="xl" x="1201" y="503">W4</text><text class="xl" x="1227" y="503">W8</text><text class="xl" x="1252" y="503">W12</text>
<rect class="ec" x="1097" y="513" width="149" height="18"/><text class="et" x="1171.5" y="528">Unclassfied enzyme</text>
</g>
</g>

<!-- Pathway EC labels and steps -->
<g id="ecA">
<rect class="ec" x="311" y="95" width="96" height="22"/><text class="et" x="359" y="112">EC: 1.2.7.12</text>
<rect class="ec" x="311" y="177" width="101" height="21"/><text class="et" x="361.5" y="193">EC: 2.3.1.101</text>
<rect class="ec" x="311" y="253" width="96" height="22"/><text class="et" x="359" y="270">EC: 3.5.4.27</text>
<rect class="ec" x="311" y="321" width="96" height="21"/><text class="et" x="359" y="337">EC: 1.5.98.1</text>
<rect class="ec" x="311" y="389" width="96" height="21"/><text class="et" x="359" y="405">EC: 1.5.98.2</text>
<rect class="ec" x="311" y="458" width="96" height="22"/><text class="et" x="359" y="475">EC: 2.1.1.86</text>
<rect class="ec" x="311" y="525" width="88" height="22"/><text class="et" x="355" y="542">EC: 2.8.4.1</text>
<text class="sp" x="439" y="113">Step 1</text><text class="sp" x="437" y="197">Step 2</text><text class="sp" x="443" y="270">Step 3</text><text class="sp" x="445" y="340">Step 4</text><text class="sp" x="447" y="410">Step 5</text><text class="sp" x="449" y="478">Step 6</text><text class="sp" x="447" y="545">Step 7</text><text class="sp" x="443" y="774">Step 8</text>
</g>

<!-- Connectors -->
<g id="connectors">
<path class="big" marker-end="url(#mb)" d="M424 79V145"/>
<path class="big" marker-end="url(#mb)" d="M424 168V215"/>
<path class="big" marker-end="url(#mb)" d="M424 240V287"/>
<path class="big" marker-end="url(#mb)" d="M424 312V356"/>
<path class="big" marker-end="url(#mb)" d="M424 380V426"/>
<path class="big" marker-end="url(#mb)" d="M424 451V494"/>
<path class="big" marker-end="url(#mb)" d="M424 518V563"/>
<path class="big" marker-end="url(#mb)" d="M425 758V789"/>
<path class="ln" d="M419 595V621"/>
<path class="sm" marker-end="url(#ms)" d="M915 205V227"/>
<path class="sm" marker-end="url(#ms)" d="M712 528V548"/>
<path class="sm" marker-end="url(#ms)" d="M945 525V548"/>
<path class="sm" marker-end="url(#ms)" d="M1172 532V548"/>
<path class="ln" d="M913 80V94M712 319V419M945 322V336M1181 318V332"/>
<path class="cn" marker-end="url(#mm)" d="M553 252V497H512"/>
<path class="cn" marker-end="url(#mm)" d="M568 580L514 511"/>
</g>

<!-- Nodes -->
<g id="n-co2"><rect class="nd" x="404" y="56" width="44" height="23" rx="11.5"/><text class="nt" x="424" y="73">CO<tspan font-size="10" dy="3">2</tspan></text></g>
<g id="n-formylmf"><rect class="nd" x="375" y="146" width="96" height="22" rx="11"/><text class="nt" x="423" y="162">Formyl-MF</text></g>
<g id="n-5formyl"><rect class="nd" x="346" y="217" width="152" height="23" rx="11.5"/><text class="nt" x="422" y="234">5-Formyl-H4MPT</text></g>
<g id="n-methenyl"><rect class="nd" x="325" y="289" width="197" height="23" rx="11.5"/><text class="nt" x="423.5" y="306">5-10-Methenyl-H4MPT</text></g>
<g id="n-methylene"><rect class="nd" x="338" y="357" width="198" height="23" rx="11.5"/><text class="nt" x="437" y="374">5-10-Methylene-H4MPT</text></g>
<g id="n-coM1"><rect class="nd" x="270" y="428" width="110" height="23" rx="11.5"/><text class="nt" x="325" y="445">Coenzyme M</text></g>
<g id="n-methylh4"><rect class="nd" x="399" y="428" width="148" height="23" rx="11.5"/><text class="nt" x="473" y="445">5-Methyl-H4MPT</text></g>
<g id="n-coB1"><rect class="nd" x="270" y="496" width="111" height="22" rx="11"/><text class="nt" x="325.5" y="512">Coenzyme B</text></g>
<g id="n-methylcom"><rect class="nd" x="402" y="496" width="109" height="22" rx="11"/><text class="nt" x="456.5" y="512">Methyl-CoM</text></g>
<g id="n-methane"><rect x="289" y="565" width="97" height="23" rx="11.5" fill="#1fbfc3" stroke="#19aab0" stroke-width="1"/><text class="nt" x="337.5" y="582">Methane</text></g>
<g id="n-comsscob"><rect class="nd" x="406" y="565" width="122" height="23" rx="11.5"/><text class="nt" x="467" y="582">CoM-S-S-CoB</text></g>
<g id="n-coB2"><rect class="nd" x="299" y="790" width="112" height="22" rx="11"/><text class="nt" x="355" y="806">Coenzyme B</text></g>
<g id="n-coM2"><rect class="nd" x="444" y="790" width="109" height="22" rx="11"/><text class="nt" x="498.5" y="806">Coenzyme M</text></g>
<g id="plus"><text class="pl" x="390" y="447">+</text><text class="pl" x="393" y="514">+</text><text class="pl" x="394" y="584">+</text><text class="pl" x="430" y="806">+</text></g>
<g id="n-methanol"><rect class="nd" x="869" y="59" width="88" height="21" rx="10.5"/><text class="nt" x="913" y="75">Methanol</text></g>
<g id="n-methylcomB"><rect class="nd" x="866" y="228" width="108" height="22" rx="11"/><text class="nt" x="920" y="244">Methyl-CoM</text></g>
<g id="n-methylamine"><rect class="nd" x="657" y="296" width="118" height="23" rx="11.5"/><text class="nt" x="716" y="313">Methylamine</text></g>
<g id="n-dimethylamine"><rect class="nd" x="876" y="296" width="133" height="23" rx="11.5"/><text class="nt" x="942.5" y="313">Dimethylamine</text></g>
<g id="n-trimethylamine"><rect class="nd" x="1114" y="296" width="133" height="23" rx="11.5"/><text class="nt" x="1180.5" y="313">Trimethylamine</text></g>
<g id="n-methylcomC1"><rect class="nd" x="659" y="549" width="108" height="23" rx="11.5"/><text class="nt" x="713" y="566">Methyl-CoM</text></g>
<g id="n-methylcomC2"><rect class="nd" x="890" y="549" width="112" height="23" rx="11.5"/><text class="nt" x="946" y="566">Methyl-CoM</text></g>
<g id="n-methylcomC3"><rect class="nd" x="1122" y="549" width="109" height="23" rx="11.5"/><text class="nt" x="1176.5" y="566">Methyl-CoM</text></g>

<!-- Legend -->
<g id="legend">
<text x="1145" y="652" font-size="15" fill="#000">Treatment</text>
<path d="M1161 662V667M1161 685V690M1161 696V701M1161 719V724" stroke="#888" stroke-width="1"/>
<rect x="1149" y="667" width="25" height="18" fill="#F8766D" stroke="#444" stroke-width="0.8"/><path d="M1149 676h25" stroke="#444"/>
<rect x="1149" y="701" width="25" height="18" fill="#00BFC4" stroke="#444" stroke-width="0.8"/><path d="M1149 710h25" stroke="#444"/>
<text x="1183" y="680" font-size="12.5" fill="#000">Control</text>
<text x="1184" y="716" font-size="12.5" fill="#000">3-NOP</text>
</g>

<!-- Caption -->
<g id="caption">
<text class="cap" x="25" y="849" textLength="1212" lengthAdjust="spacingAndGlyphs"><tspan font-weight="bold">Fig. 2</tspan>  Comparisons of genes (metagenomics; metaG) and transcripts (metatranscriptomics; metaG) abundance in copies per million (cpm) for</text>
<text class="cap" x="25" y="874" textLength="1199" lengthAdjust="spacingAndGlyphs">enzymes involved in methanogenesis between control and 3-nitrooxypropanol (3-NOP)-treated cows at weeks 4, 8, and 12. <tspan font-weight="bold">A</tspan> Carbon dioxide</text>
<text class="cap" x="25" y="900" textLength="1215" lengthAdjust="spacingAndGlyphs">(CO<tspan font-size="13" dy="4">2</tspan><tspan dy="-4">)/hydrogen (H</tspan><tspan font-size="13" dy="4">2</tspan><tspan dy="-4">) methanogenesis pathway (KEGG pathway entry MD:M00567), </tspan><tspan font-weight="bold">B</tspan> methanol methanogenesis pathway (KEGG pathway entry</text>
<text class="cap" x="25" y="926" textLength="1236" lengthAdjust="spacingAndGlyphs">MD:M00356), and <tspan font-weight="bold">C</tspan> methylamine methanogenesis pathway (KEGG pathway entry MD:M00563). NS, no statistical significance in generalized linear</text>
<text class="cap" x="25" y="952" textLength="1043" lengthAdjust="spacingAndGlyphs">mixed model (glmer); *<tspan font-style="italic">P</tspan> &lt; 0.05; **<tspan font-style="italic">P</tspan> &lt; 0.01; ***<tspan font-style="italic">P</tspan> &lt; 0.001. The black circles appearing on the boxplots are the outlier samples</text>
</g>
</svg>
